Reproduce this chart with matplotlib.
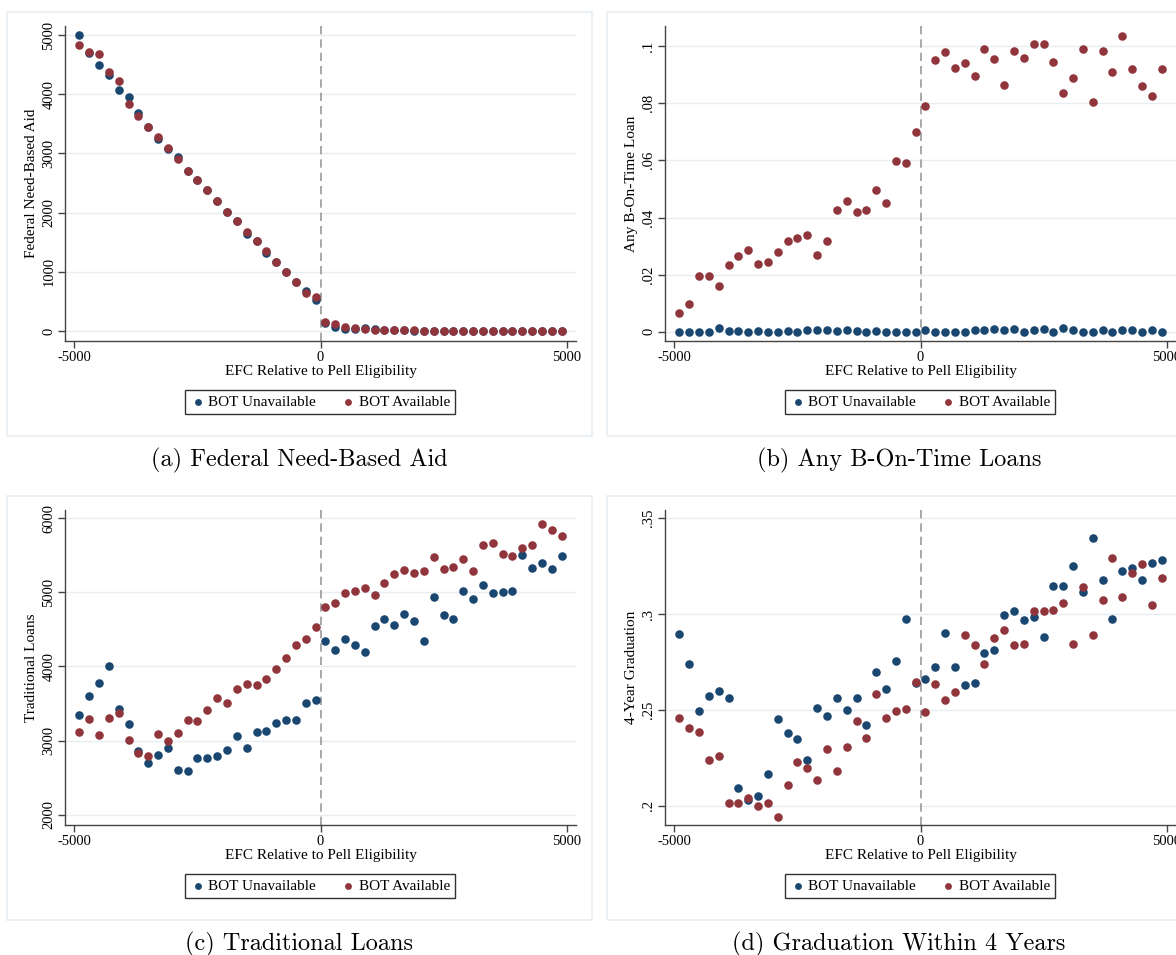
import matplotlib
matplotlib.use("Agg")
import matplotlib.pyplot as plt
from matplotlib.patches import Rectangle

# EFC bins (bin centres, $200 wide)
efc = [-4900, -4700, -4500, -4300, -4100, -3900, -3700, -3500, -3300, -3100,
       -2900, -2700, -2500, -2300, -2100, -1900, -1700, -1500, -1300, -1100,
       -900, -700, -500, -300, -100,
       100, 300, 500, 700, 900, 1100, 1300, 1500, 1700, 1900,
       2100, 2300, 2500, 2700, 2900, 3100, 3300, 3500, 3700, 3900,
       4100, 4300, 4500, 4700, 4900]

# (a) Federal need-based aid
aid_unavail = [5000, 4700, 4487, 4329, 4064, 3946, 3675, 3450, 3250, 3080,
               2931, 2711, 2548, 2379, 2198, 2012, 1850, 1635, 1522, 1325,
               1167, 1000, 823, 676, 519,
               130, 68, 40, 40, 45, 30, 20, 10, 15, 5,
               5, 5, 3, 3, 2, 2, 2, 2, 2, 5, 2, 2, 2, 2, 2]
aid_avail = [4825, 4713, 4684, 4369, 4228, 3833, 3625, 3450, 3275, 3095,
             2897, 2711, 2548, 2379, 2198, 2012, 1860, 1680, 1522, 1358,
             1167, 998, 823, 637, 575,
             158, 113, 73, 45, 30, 25, 20, 10, 10, 10,
             5, 5, 5, 5, 5, 5, 5, 5, 5, 5, 5, 5, 5, 5, 5]

# (b) Any B-On-Time loan
bot_unavail = [0, 0, 0, 0, 0.0014, 0.0004, 0.0003, 0, 0.0003, 0,
               0, 0.0002, 0, 0.0005, 0.0005, 0.0005, 0.0003, 0.0008, 0.0003, 0,
               0.0003, 0, 0, 0, 0,
               0.0008, 0, 0, 0, 0, 0.0005, 0.0005, 0.001, 0.0005, 0.001,
               0, 0.0005, 0.001, 0, 0.0012, 0.0005, 0, 0, 0.0008, 0,
               0.0008, 0.0008, 0, 0.0008, 0]
bot_avail = [0.0067, 0.0098, 0.0197, 0.0196, 0.0159, 0.0234, 0.0264, 0.0286, 0.0239, 0.0246,
             0.0278, 0.0318, 0.0329, 0.0338, 0.0268, 0.0317, 0.0428, 0.0457, 0.0418, 0.0425,
             0.0497, 0.0451, 0.0599, 0.0591, 0.0699,
             0.0790, 0.0951, 0.0978, 0.0923, 0.0942, 0.0895, 0.0989, 0.0953, 0.0864, 0.0984,
             0.0957, 0.1008, 0.1008, 0.0944, 0.0836, 0.0889, 0.0989, 0.0803, 0.0984, 0.0909,
             0.1036, 0.0918, 0.0861, 0.0824, 0.0918]

# (c) Traditional loans
trad_unavail = [3347, 3604, 3775, 4000, 3432, 3221, 2860, 2698, 2811, 2905,
                2608, 2586, 2761, 2761, 2788, 2869, 3063, 2901, 3117, 3126,
                3243, 3284, 3279, 3509, 3550,
                4338, 4225, 4365, 4284, 4189, 4550, 4644, 4554, 4707, 4608,
                4347, 4937, 4698, 4640, 5014, 4910, 5095, 4995, 5005, 5014,
                5505, 5324, 5396, 5320, 5495]
trad_avail = [3113, 3293, 3072, 3306, 3378, 3009, 2838, 2793, 3086, 2995,
              3108, 3275, 3266, 3410, 3572, 3505, 3694, 3761, 3752, 3833,
              3973, 4113, 4288, 4369, 4536,
              4797, 4856, 4995, 5014, 5059, 4964, 5122, 5248, 5306, 5266,
              5284, 5473, 5315, 5342, 5446, 5293, 5631, 5658, 5509, 5482,
              5599, 5635, 5923, 5838, 5757]

# (d) 4-year graduation
grad_unavail = [0.2897, 0.2741, 0.2494, 0.2575, 0.2599, 0.2564, 0.2095, 0.2032, 0.2049, 0.2168,
                0.2452, 0.2377, 0.2349, 0.2240, 0.2510, 0.2470, 0.2564, 0.2498, 0.2562, 0.2419,
                0.2699, 0.2610, 0.2753, 0.2972, 0.2641,
                0.2662, 0.2724, 0.2901, 0.2724, 0.2631, 0.2641, 0.2797, 0.2813, 0.2994, 0.3018,
                0.2969, 0.2983, 0.2880, 0.3144, 0.3144, 0.3249, 0.3113, 0.3397, 0.3178, 0.2972,
                0.3223, 0.3239, 0.3178, 0.3267, 0.3283]
grad_avail = [0.2457, 0.2407, 0.2384, 0.2237, 0.2259, 0.2014, 0.2014, 0.2040, 0.2000, 0.2014,
              0.1944, 0.2109, 0.2231, 0.2198, 0.2135, 0.2296, 0.2184, 0.2305, 0.2440, 0.2354,
              0.2583, 0.2457, 0.2494, 0.2503, 0.2648,
              0.2489, 0.2633, 0.2550, 0.2591, 0.2890, 0.2836, 0.2739, 0.2874, 0.2916, 0.2839,
              0.2845, 0.3016, 0.3018, 0.3022, 0.3057, 0.2843, 0.3142, 0.2892, 0.3071, 0.3290,
              0.3090, 0.3213, 0.3258, 0.3048, 0.3189]

panels = [
    dict(unavail=aid_unavail, avail=aid_avail, ylabel="Federal Need-Based Aid",
         yticks=[0, 1000, 2000, 3000, 4000, 5000],
         yticklabels=["0", "1000", "2000", "3000", "4000", "5000"],
         ylim=(-169, 5152), caption="(a) Federal Need-Based Aid"),
    dict(unavail=bot_unavail, avail=bot_avail, ylabel="Any B-On-Time Loan",
         yticks=[0, 0.02, 0.04, 0.06, 0.08, 0.1],
         yticklabels=["0", ".02", ".04", ".06", ".08", ".1"],
         ylim=(-0.0032, 0.107), caption="(b) Any B-On-Time Loans"),
    dict(unavail=trad_unavail, avail=trad_avail, ylabel="Traditional Loans",
         yticks=[2000, 3000, 4000, 5000, 6000],
         yticklabels=["2000", "3000", "4000", "5000", "6000"],
         ylim=(1865, 6108), caption="(c) Traditional Loans"),
    dict(unavail=grad_unavail, avail=grad_avail, ylabel="4-Year Graduation",
         yticks=[0.2, 0.25, 0.3, 0.35],
         yticklabels=[".2", ".25", ".3", ".35"],
         ylim=(0.19, 0.3542), caption="(d) Graduation Within 4 Years"),
]

W, H = 1176, 955
BLUE = "#1a476f"
RED = "#90353b"
GRID = "#e6eef1"
SERIF = ["Liberation Serif", "DejaVu Serif"]

fig = plt.figure(figsize=(W / 100, H / 100), dpi=100)
fig.patch.set_facecolor("white")


def px_axes(x0, y0, x1, y1):
    return fig.add_axes([x0 / W, 1 - y1 / H, (x1 - x0) / W, (y1 - y0) / H])


for k, p in enumerate(panels):
    dx = 600 * (k % 2)
    dy = 484 * (k // 2)

    # light outer frame of each sub-graph
    fig.patches.append(Rectangle(((7 + dx) / W, 1 - (436 + dy) / H), 585 / W, 424 / H,
                                 transform=fig.transFigure, facecolor="none",
                                 edgecolor=GRID, linewidth=1.2, zorder=0))

    ax = px_axes(65 + dx, 26 + dy, 576 + dx, 341 + dy)
    ax.set_xlim(-5190, 5190)
    ax.set_ylim(*p["ylim"])
    for s in ["top", "right"]:
        ax.spines[s].set_visible(False)
    for s in ["left", "bottom"]:
        ax.spines[s].set_color("#444444")
        ax.spines[s].set_linewidth(1.0)

    for yv in p["yticks"]:
        ax.axhline(yv, color=GRID, linewidth=1.0, zorder=0)
    ax.axvline(0, color="#999999", linestyle=(0, (5, 3)), linewidth=1.2, zorder=1)

    ax.scatter(efc, p["unavail"], s=38, color=BLUE, zorder=3, label="BOT Unavailable",
               linewidths=0)
    ax.scatter(efc, p["avail"], s=38, color=RED, zorder=4, label="BOT Available",
               linewidths=0)

    ax.set_xticks([-5000, 0, 5000])
    ax.set_xticklabels(["-5000", "0", "5000"], fontfamily=SERIF, fontsize=10.5)
    ax.set_yticks(p["yticks"])
    ax.set_yticklabels(p["yticklabels"], fontfamily=SERIF, fontsize=10.5,
                       rotation=90, va="center")
    ax.tick_params(direction="out", length=5, width=1.0, color="#444444", pad=2)
    ax.set_xlabel("EFC Relative to Pell Eligibility", fontfamily=SERIF, fontsize=11, labelpad=1)
    ax.set_ylabel(p["ylabel"], fontfamily=SERIF, fontsize=11, labelpad=3)

    leg = ax.legend(loc="center", bbox_to_anchor=((320 + dx) / W, 1 - (402 + dy) / H),
                    bbox_transform=fig.transFigure, ncol=2, frameon=True, fancybox=False,
                    prop=dict(family=SERIF, size=11), markerscale=0.8,
                    handletextpad=0.2, columnspacing=1.6, borderpad=0.35,
                    handlelength=1.0)
    leg.get_frame().set_edgecolor("black")
    leg.get_frame().set_linewidth(1.0)

    fig.text((299 + dx) / W, 1 - (460 + dy) / H, p["caption"], ha="center", va="center",
             fontfamily="cmr10", fontsize=17.5)

fig.savefig("out.png", dpi=100)
